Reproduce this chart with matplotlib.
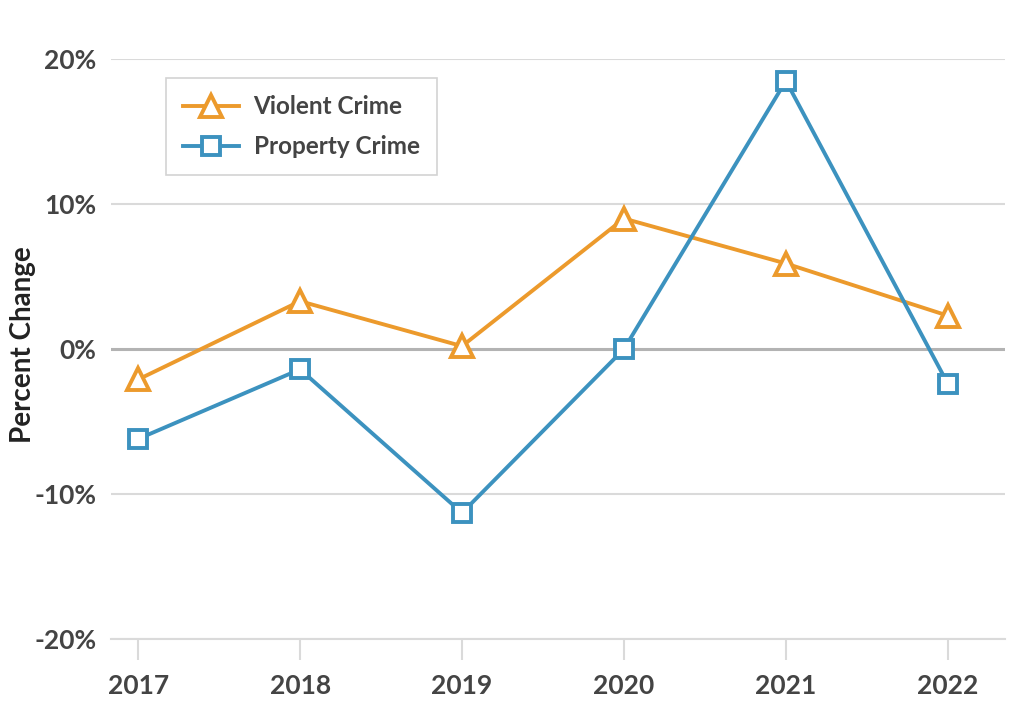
import numpy as np
import matplotlib.pyplot as plt

years = [2017, 2018, 2019, 2020, 2021, 2022]
violent = [-2.1, 3.3, 0.2, 9.0, 5.9, 2.3]
property_crime = [-6.2, -1.4, -11.3, 0.0, 18.5, -2.4]
yticks = [-20, -10, 0, 10, 20]
ytick_labels = ['-20%', '-10%', '0%', '10%', '20%']

plt.rcParams['font.family'] = ['Lato', 'DejaVu Sans']
plt.rcParams['font.weight'] = 'bold'
text_color = '#444444'
orange = '#EC9A2C'
blue = '#3C92BF'

fig = plt.figure(figsize=(10.24, 7.16), dpi=100)
ax = fig.add_axes([0.108, 0.1075, 0.873, 0.81])

ax.set_ylim(-20, 20)
ax.set_xlim(2016.83, 2022.35)

# grid lines
for t in yticks:
    if t == 0:
        ax.axhline(t, color='#b3b3b3', lw=2.2, zorder=1)
    else:
        ax.axhline(t, color='#dadada', lw=1.5, zorder=1)

ax.plot(years, violent, color=orange, lw=2.8, marker='^', markersize=16,
        markerfacecolor='white', markeredgecolor=orange, markeredgewidth=2.8,
        label='Violent Crime', zorder=3)
ax.plot(years, property_crime, color=blue, lw=2.8, marker='s', markersize=13,
        markerfacecolor='white', markeredgecolor=blue, markeredgewidth=2.8,
        label='Property Crime', zorder=3)

for s in ['top', 'right', 'left']:
    ax.spines[s].set_visible(False)
ax.spines['bottom'].set_color('#dadada')
ax.spines['bottom'].set_linewidth(1.5)

ax.set_yticks(yticks)
ax.set_yticklabels(ytick_labels, fontsize=19, color=text_color)
ax.tick_params(axis='y', length=0, pad=10)
ax.set_xticks(years)
ax.set_xticklabels([str(y) for y in years], fontsize=19, color=text_color)
ax.tick_params(axis='x', length=15, width=1.5, color='#dadada', pad=10)

ax.set_ylabel('Percent Change', fontsize=20, fontweight='bold', color='#222222')
ax.yaxis.set_label_coords(-0.084, 0.507)

leg = ax.legend(loc='upper left', bbox_to_anchor=(0.062, 0.967), fontsize=17.5,
                frameon=True, fancybox=False, borderpad=0.7, labelspacing=0.7,
                handlelength=2.3, handletextpad=0.6, borderaxespad=0)
leg.get_frame().set_edgecolor('#c8c8c8')
leg.get_frame().set_linewidth(1.2)
for t in leg.get_texts():
    t.set_color(text_color)

fig.savefig('out.png', dpi=100)
